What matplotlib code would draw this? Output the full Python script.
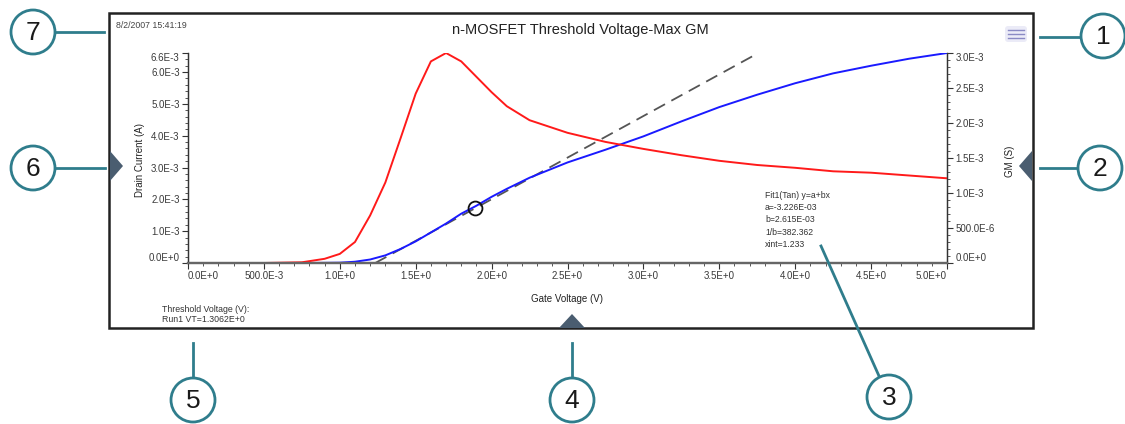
import matplotlib.pyplot as plt
from matplotlib.patches import Circle, Rectangle, Polygon, FancyBboxPatch
from matplotlib.ticker import MultipleLocator

W, H = 1125, 424
plt.rcParams["font.family"] = ["Liberation Sans", "DejaVu Sans"]

# ---- values ----
gate_v = [0.0, 0.25, 0.5, 0.75, 0.9, 1.0, 1.1, 1.2, 1.3, 1.4, 1.5, 1.6, 1.7, 1.8, 1.9,
          2.0, 2.1, 2.25, 2.5, 2.75, 3.0, 3.25, 3.5, 3.75, 4.0, 4.25, 4.5, 4.75, 5.0]
drain_ma = [0.0, 0.0, 0.0, 0.0, 0.005, 0.01, 0.04, 0.11, 0.24, 0.44, 0.68, 0.96, 1.24, 1.55, 1.80,
            2.08, 2.33, 2.68, 3.16, 3.56, 3.98, 4.45, 4.90, 5.29, 5.65, 5.96, 6.20, 6.42, 6.60]
gm_ms = [0.0, 0.0, 0.0, 0.01, 0.06, 0.13, 0.30, 0.68, 1.15, 1.78, 2.42, 2.88, 3.00, 2.88, 2.66,
         2.44, 2.24, 2.04, 1.86, 1.73, 1.63, 1.54, 1.46, 1.40, 1.36, 1.31, 1.29, 1.25, 1.21]
drain = [v * 1e-3 for v in drain_ma]
gm = [v * 1e-3 for v in gm_ms]

fit_a = -3.226e-3
fit_b = 2.615e-3
fit_x_end = 3.75
tan_x = 1.89

x_ticks = [0.0, 0.5, 1.0, 1.5, 2.0, 2.5, 3.0, 3.5, 4.0, 4.5, 5.0]
x_ticklabels = ["0.0E+0", "500.0E-3", "1.0E+0", "1.5E+0", "2.0E+0", "2.5E+0",
                "3.0E+0", "3.5E+0", "4.0E+0", "4.5E+0", "5.0E+0"]
id_ticks = [0.0, 1e-3, 2e-3, 3e-3, 4e-3, 5e-3, 6e-3, 6.6e-3]
id_ticklabels = ["0.0E+0", "1.0E-3", "2.0E-3", "3.0E-3", "4.0E-3", "5.0E-3", "6.0E-3", "6.6E-3"]
gm_ticks = [0.0, 0.5e-3, 1.0e-3, 1.5e-3, 2.0e-3, 2.5e-3, 3.0e-3]
gm_ticklabels = ["0.0E+0", "500.0E-6", "1.0E-3", "1.5E-3", "2.0E-3", "2.5E-3", "3.0E-3"]

fit_lines = ["Fit1(Tan) y=a+bx", "a=-3.226E-03", "b=2.615E-03", "1/b=382.362", "xint=1.233"]
vt_lines = ["Threshold Voltage (V):", "Run1 VT=1.3062E+0"]

# ---- figure ----
fig = plt.figure(figsize=(W / 100, H / 100), dpi=100)
ax = fig.add_axes([188 / W, 1 - 263 / H, 759 / W, 210 / H])
ax2 = ax.twinx()

ax.plot(gate_v, drain, color="#1a1aff", lw=1.4, zorder=3)
xint = -fit_a / fit_b
ax.plot([xint, fit_x_end], [fit_a + fit_b * xint, fit_a + fit_b * fit_x_end],
        color="#555555", lw=1.3, dashes=(7, 4), zorder=2)
ax.plot([tan_x], [fit_a + fit_b * tan_x], "o", mfc="none", mec="#111111", ms=10, mew=1.3, zorder=4)
ax2.plot(gate_v, gm, color="#ff1a1a", lw=1.4)

ax.set_xlim(0, 5)
ax.set_ylim(0, 6.6e-3)
ax2.set_ylim(0, 3.0e-3)

ax.set_xticks(x_ticks, x_ticklabels)
ax.set_yticks(id_ticks, id_ticklabels)
ax2.set_yticks(gm_ticks, gm_ticklabels)
ax.xaxis.set_minor_locator(MultipleLocator(0.1))
ax.yaxis.set_minor_locator(MultipleLocator(0.2e-3))
ax2.yaxis.set_minor_locator(MultipleLocator(0.1e-3))
for a in (ax, ax2):
    a.tick_params(which="major", length=4, width=0.8, color="#333333", labelsize=7, pad=2,
                  labelcolor="#3a3a3a")
    a.tick_params(which="minor", length=2.5, width=0.7, color="#555555")
    a.spines["top"].set_visible(False)
    for s in ("left", "right"):
        a.spines[s].set_color("#333333")
        a.spines[s].set_linewidth(0.9)
    a.spines["bottom"].set_color("#666666")
    a.spines["bottom"].set_linewidth(1.6)

xl = ax.get_xticklabels()
xl[0].set_ha("left"); xl[-1].set_ha("right")
yl = ax.get_yticklabels()
yl[0].set_va("bottom"); yl[-1].set_va("top")
yr = ax2.get_yticklabels()
yr[0].set_va("bottom"); yr[-1].set_va("top")

ax.set_ylabel("Drain Current (A)", fontsize=7, color="#222222")
ax.yaxis.set_label_coords((145 - 188) / 759, (263 - 160) / 210)
ax2.set_ylabel("GM (S)", fontsize=7, color="#222222", rotation=90)
ax2.yaxis.set_label_coords((1005 - 188) / 759, (263 - 161) / 210)
ax.set_xlabel("Gate Voltage (V)", fontsize=7, color="#222222")
ax.xaxis.set_label_coords((567 - 188) / 759, (263 - 294) / 210)

# ---- screenshot frame and callouts (pixel coordinates) ----
ov = fig.add_axes([0, 0, 1, 1])
ov.set_xlim(0, W)
ov.set_ylim(H, 0)
ov.axis("off")

ov.add_patch(Rectangle((109, 13), 924, 315, fill=False, lw=1.8, ec="#222222"))
ov.text(580, 30, "n-MOSFET Threshold Voltage-Max GM", fontsize=10.5, ha="center", va="center",
        color="#222222")
ov.text(116, 25, "8/2/2007 15:41:19", fontsize=6.3, ha="left", va="center", color="#444444")
for i, s in enumerate(vt_lines):
    ov.text(162, 309 + i * 11, s, fontsize=6.3, ha="left", va="center", color="#333333")
for i, s in enumerate(fit_lines):
    ov.text(765, 195 + i * 12.4, s, fontsize=6.2, ha="left", va="center", color="#333333")

# menu icon
ov.add_patch(FancyBboxPatch((1005, 26), 22, 16, boxstyle="round,pad=0,rounding_size=3",
                            fc="#ebebf7", ec="none"))
for yy in (29.5, 33.5, 37.5):
    ov.plot([1008, 1024], [yy, yy], color="#8a8ac4", lw=1)

# navigation triangles
tri_c = "#4a5d70"
ov.add_patch(Polygon([(110, 151), (110, 181), (123, 166)], closed=True, fc=tri_c, ec="none"))
ov.add_patch(Polygon([(1032, 151), (1032, 181), (1019, 166)], closed=True, fc=tri_c, ec="none"))
ov.add_patch(Polygon([(559, 328), (585, 328), (572, 314)], closed=True, fc=tri_c, ec="none"))

teal = "#2f7d8c"
callouts = [("7", (33, 32), [(55, 32), (104, 32)]),
            ("1", (1103, 36), [(1040, 37), (1080, 37)]),
            ("6", (33, 168), [(56, 168), (105, 168)]),
            ("2", (1100, 168), [(1040, 168), (1077, 168)]),
            ("5", (193, 400), [(193, 343), (193, 377)]),
            ("4", (572, 400), [(572, 343), (572, 377)]),
            ("3", (889, 397), [(821, 246), (879, 376)])]
for num, (cx, cy), seg in callouts:
    ov.plot([seg[0][0], seg[1][0]], [seg[0][1], seg[1][1]], color=teal, lw=2)
    ov.add_patch(Circle((cx, cy), 22, fc="white", ec=teal, lw=2))
    ov.text(cx, cy + 1, num, fontsize=19, ha="center", va="center", color="#1a1a1a")

fig.savefig("out.png", dpi=100)
